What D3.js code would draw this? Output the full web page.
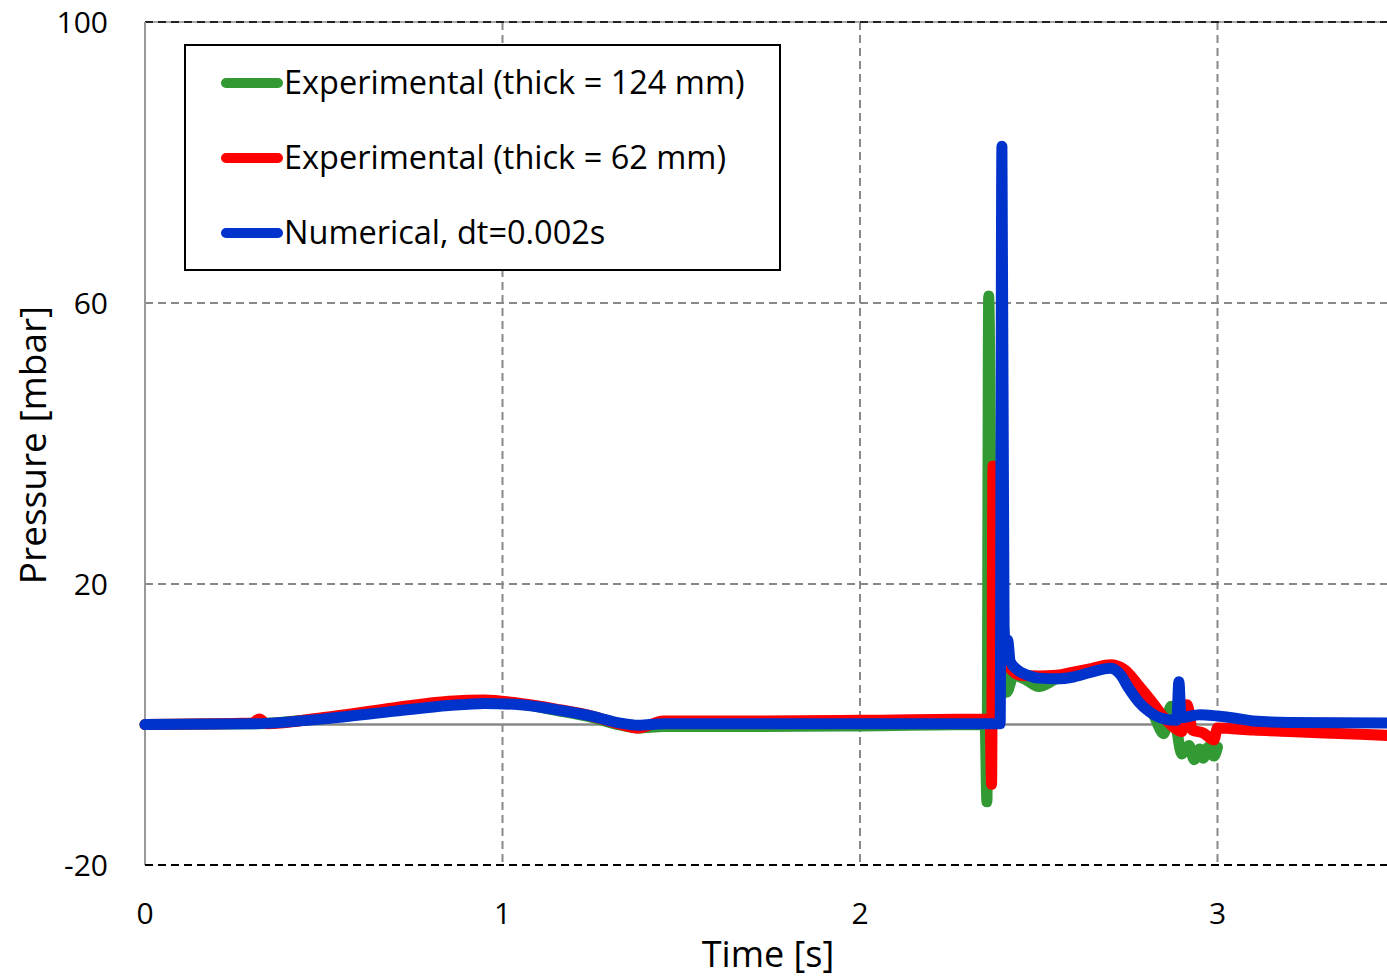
<!DOCTYPE html>
<html>
<head>
<meta charset="utf-8">
<script src="https://cdn.jsdelivr.net/npm/d3@7"></script>
<style>
  body { margin: 0; background: #fff; }
  text { font-family: "Open Sans", "Noto Sans", sans-serif; fill: #000; }
</style>
</head>
<body>
<svg id="chart" width="1387" height="977"></svg>
<script>
// series: time [s] and pressure [mbar]
var tGreen = [0, 0.3, 0.5, 0.7, 0.85, 0.95, 1.05, 1.15, 1.25, 1.33, 1.38, 1.45, 1.7, 2.0, 2.35, 2.355, 2.36, 2.37, 2.40, 2.41, 2.43, 2.46, 2.5, 2.55, 2.6, 2.7, 2.75, 2.78, 2.82, 2.85, 2.87, 2.885, 2.9, 2.92, 2.935, 2.95, 2.96, 2.975, 2.99, 3.0];
var vGreen = [0, 0.1, 0.9, 2.2, 3.0, 3.2, 2.9, 2.0, 1.0, -0.1, -0.5, -0.3, -0.3, -0.2, 0, -11, 61, 12, 8, 4.6, 7, 6.5, 5.4, 6.5, 7, 8.3, 7, 4.5, 1.5, -1.3, 2.6, -0.5, -4.2, -3, -5, -3.5, -4.8, -3.2, -4.5, -3.2];

var tRed = [0, 0.3, 0.32, 0.34, 0.5, 0.7, 0.85, 0.95, 1.05, 1.15, 1.25, 1.33, 1.38, 1.45, 1.7, 2.0, 2.364, 2.368, 2.372, 2.38, 2.40, 2.42, 2.45, 2.5, 2.55, 2.6, 2.65, 2.7, 2.74, 2.78, 2.82, 2.85, 2.88, 2.9, 2.915, 2.93, 2.96, 2.99, 3.0, 3.1, 3.2, 3.3, 3.5];
var vRed = [0, 0.2, 0.8, 0.1, 1.0, 2.4, 3.3, 3.5, 3.0, 2.2, 1.2, 0, -0.5, 0.5, 0.5, 0.6, 0.8, -8.5, 36.8, 12, 9.5, 8, 7, 6.9, 7, 7.5, 8, 8.5, 7.8, 5.5, 3, 1, -0.5, -1, 2.8, -0.8, -1.2, -2.2, -0.5, -0.8, -1, -1.2, -1.6];

var tBlue = [0, 0.3, 0.5, 0.7, 0.85, 0.95, 1.05, 1.15, 1.25, 1.33, 1.38, 1.45, 1.7, 2.0, 2.392, 2.397, 2.403, 2.408, 2.413, 2.42, 2.44, 2.47, 2.5, 2.55, 2.6, 2.65, 2.7, 2.73, 2.75, 2.78, 2.81, 2.85, 2.886, 2.892, 2.898, 2.95, 3.0, 3.05, 3.1, 3.2, 3.5];
var vBlue = [0, 0.1, 0.8, 1.9, 2.7, 3.0, 2.8, 2.1, 1.2, 0.2, -0.1, 0.1, 0.1, 0.1, 0.1, 82.3, 14, 10.5, 12, 9, 7.8, 7, 6.6, 6.5, 6.8, 7.5, 8, 7, 5.3, 3.2, 1.8, 0.8, 0.6, 6.1, 1.0, 1.4, 1.2, 0.9, 0.5, 0.3, 0.2];

var seriesNames = ["Experimental (thick = 124 mm)", "Experimental (thick = 62 mm)", "Numerical, dt=0.002s"];
var seriesColors = ["#339933", "#ff0000", "#0033cc"];
var xTicks = [0, 1, 2, 3];
var yTicks = [-20, 20, 60, 100];

var svg = d3.select("#chart");
var plotLeft = 145, plotTop = 22, plotBottom = 865, plotRight = 1387;

var x = d3.scaleLinear().domain([0, 3.5]).range([plotLeft, plotLeft + 3.5 * 357.5]);
var y = d3.scaleLinear().domain([-20, 100]).range([plotBottom, plotTop]);

// grid
var grid = svg.append("g");
grid.selectAll(".vg")
  .data(xTicks.filter(function (d) { return d > 0; }))
  .enter().append("line")
  .attr("x1", function (d) { return x(d); }).attr("x2", function (d) { return x(d); })
  .attr("y1", plotTop).attr("y2", plotBottom)
  .attr("stroke", "#888").attr("stroke-width", 2).attr("stroke-dasharray", "8,5");
grid.selectAll(".hg")
  .data([20, 60])
  .enter().append("line")
  .attr("x1", plotLeft).attr("x2", plotRight)
  .attr("y1", function (d) { return y(d); }).attr("y2", function (d) { return y(d); })
  .attr("stroke", "#888").attr("stroke-width", 2).attr("stroke-dasharray", "8,5");
// top border
grid.append("line").attr("x1", plotLeft).attr("x2", plotRight).attr("y1", y(100)).attr("y2", y(100))
  .attr("stroke", "#aaa").attr("stroke-width", 2);
grid.append("line").attr("x1", plotLeft).attr("x2", plotRight).attr("y1", y(100)).attr("y2", y(100))
  .attr("stroke", "#222").attr("stroke-width", 2).attr("stroke-dasharray", "8,5");
// left border
grid.append("line").attr("x1", plotLeft).attr("x2", plotLeft).attr("y1", plotTop).attr("y2", plotBottom)
  .attr("stroke", "#999").attr("stroke-width", 2);
// bottom border
grid.append("line").attr("x1", plotLeft).attr("x2", plotRight).attr("y1", y(-20)).attr("y2", y(-20))
  .attr("stroke", "#000").attr("stroke-width", 2).attr("stroke-dasharray", "8,5");
// zero line
grid.append("line").attr("x1", plotLeft).attr("x2", plotRight).attr("y1", y(0)).attr("y2", y(0))
  .attr("stroke", "#888").attr("stroke-width", 2.5);

// lines
var line = d3.line()
  .curve(d3.curveMonotoneX)
  .x(function (d) { return x(d[0]); })
  .y(function (d) { return y(d[1]); });

var allSeries = [d3.zip(tGreen, vGreen), d3.zip(tRed, vRed), d3.zip(tBlue, vBlue)];
svg.append("g").selectAll("path")
  .data(allSeries)
  .enter().append("path")
  .attr("d", line)
  .attr("fill", "none")
  .attr("stroke", function (d, i) { return seriesColors[i]; })
  .attr("stroke-width", 11)
  .attr("stroke-linejoin", "round")
  .attr("stroke-linecap", "round");

// tick labels
svg.append("g").selectAll("text")
  .data(yTicks)
  .enter().append("text")
  .attr("x", 108).attr("y", function (d) { return y(d); })
  .attr("dy", "0.35em")
  .attr("text-anchor", "end")
  .style("font-size", "30px")
  .text(function (d) { return d; });
svg.append("g").selectAll("text")
  .data(xTicks)
  .enter().append("text")
  .attr("x", function (d) { return x(d); }).attr("y", 913)
  .attr("dy", "0.35em")
  .attr("text-anchor", "middle")
  .style("font-size", "30px")
  .text(function (d) { return d; });

// axis titles
svg.append("text").attr("x", 768).attr("y", 954).attr("dy", "0.35em")
  .attr("text-anchor", "middle").style("font-size", "36px").text("Time [s]");
svg.append("text").attr("transform", "translate(33,445) rotate(-90)").attr("dy", "0.35em")
  .attr("text-anchor", "middle").style("font-size", "37px").text("Pressure [mbar]");

// legend
var lg = svg.append("g");
lg.append("rect").attr("x", 185).attr("y", 45).attr("width", 595).attr("height", 225)
  .attr("fill", "#fff").attr("stroke", "#000").attr("stroke-width", 2);
var items = lg.selectAll(".item")
  .data(seriesNames)
  .enter().append("g")
  .attr("transform", function (d, i) { return "translate(0," + (83 + i * 75) + ")"; });
items.append("line")
  .attr("x1", 226).attr("x2", 278).attr("y1", 0).attr("y2", 0)
  .attr("stroke", function (d, i) { return seriesColors[i]; })
  .attr("stroke-width", 10).attr("stroke-linecap", "round");
items.append("text")
  .attr("x", 284).attr("y", 0).attr("dy", "0.35em")
  .style("font-size", "32.5px")
  .text(function (d) { return d; });
</script>
</body>
</html>
